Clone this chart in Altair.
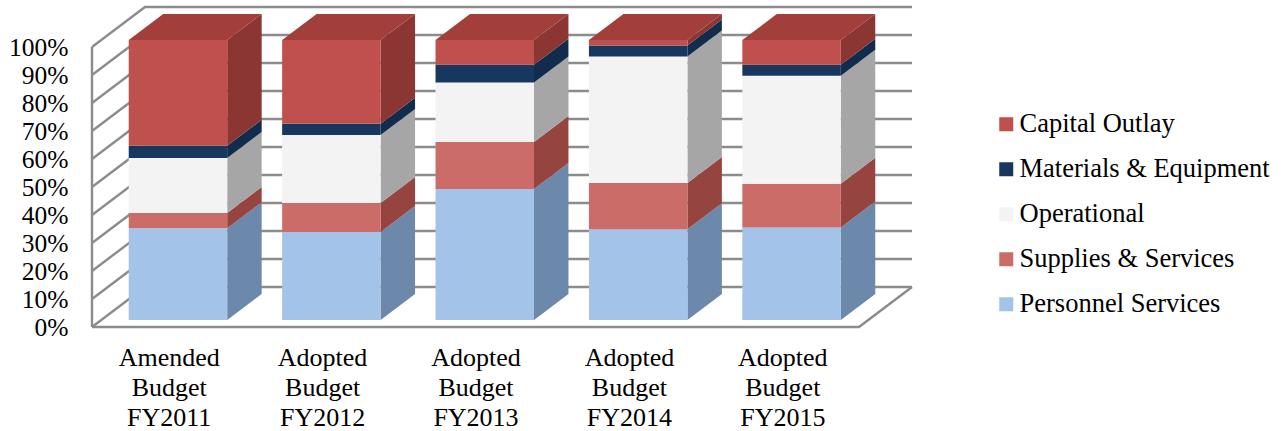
import altair as alt
import pandas as pd

# Budget years and the share of each spending category, in percent
budgets = ["Amended\nBudget\nFY2011", "Adopted\nBudget\nFY2012", "Adopted\nBudget\nFY2013",
           "Adopted\nBudget\nFY2014", "Adopted\nBudget\nFY2015"]
series = ["Personnel Services", "Supplies & Services", "Operational",
          "Materials & Equipment", "Capital Outlay"]
personnel = [32.8, 31.4, 46.8, 32.4, 33.0]
supplies = [5.4, 10.4, 16.8, 16.5, 15.7]
operational = [19.7, 24.3, 21.2, 45.2, 38.5]
materials = [4.3, 4.0, 6.4, 3.9, 4.0]
capital = [37.8, 29.9, 8.8, 2.0, 8.8]
shares = [personnel, supplies, operational, materials, capital]

# Face colours of each series: front, side, top
front_colors = ["#a3c3e8", "#cc6c69", "#f3f3f3", "#17375e", "#c0504d"]
side_colors = ["#6c88ab", "#964440", "#a6a6a6", "#122c4e", "#8b3633"]
top_color = "#a23f3b"
line_color = "#8c8c8c"
FONT = "Liberation Serif"

# Oblique projection: depth 0 is the front plane, depth 1 the back wall
DEPTH_X = 0.3455   # category units
DEPTH_Y = 14.286   # percentage points
BAR_NEAR, BAR_FAR = 0.175, 0.825
BAR_WIDTH = 0.642
X_MAX = 5 + DEPTH_X
Y_MAX = 100 + DEPTH_Y


def project(x, y, depth):
    return x + DEPTH_X * depth, y + DEPTH_Y * depth


# Wall and floor lines
wall_rows = []


def wall_line(key, *points):
    for n, (x, y, depth) in enumerate(points):
        px, py = project(x, y, depth)
        wall_rows.append({"key": key, "n": n, "x": px, "y": py})


for pct in range(0, 101, 10):
    wall_line(f"grid{pct}", (0, pct, 0), (0, pct, 1), (5, pct, 1))
wall_line("left", (0, 0, 0), (0, 100, 0))
wall_line("floor", (0, 0, 0), (5, 0, 0), (5, 0, 1))

front_rows, side_rows, top_rows = [], [], []
for b in range(len(budgets)):
    left = b + 0.5 - BAR_WIDTH / 2
    right = b + 0.5 + BAR_WIDTH / 2
    base = 0.0
    for s, name in enumerate(series):
        head = base + shares[s][b]
        x0, y0 = project(left, base, BAR_NEAR)
        x1, y1 = project(right, head, BAR_NEAR)
        front_rows.append({"series": name, "x": x0, "x2": x1, "y": y0, "y2": y1})
        for depth in (BAR_NEAR, BAR_FAR):
            sx, sy = project(right, base, depth)
            _, sy2 = project(right, head, depth)
            side_rows.append({"key": f"{b}-{s}", "fill": side_colors[s], "x": sx, "y": sy, "y2": sy2})
        base = head
    for depth in (BAR_NEAR, BAR_FAR):
        tx, ty = project(left, base, depth)
        tx2, _ = project(right, base, depth)
        top_rows.append({"key": str(b), "x": tx, "x2": tx2, "y": ty})

x_scale = alt.Scale(domain=[0, X_MAX], nice=False, zero=False)
y_scale = alt.Scale(domain=[0, Y_MAX], nice=False, zero=False)

# Every layer carries the same axis definitions so that they merge cleanly
x_axis = alt.Axis(
    values=[0.5, 1.5, 2.5, 3.5, 4.5],
    domain=False, ticks=False, grid=False,
    labelExpr="split(" + str(budgets).replace("\\n", "|") + "[floor(datum.value)], '|')",
    labelFont=FONT, labelFontSize=26, labelColor="#000000",
    labelLineHeight=30, labelPadding=17, labelBaseline="top",
    labelAngle=0, labelOverlap=False, labelFlush=False, labelBound=False,
)
y_axis = alt.Axis(
    values=list(range(0, 101, 10)),
    domain=False, ticks=False, grid=False,
    labelExpr="datum.value + '%'",
    labelFont=FONT, labelFontSize=25.5, labelColor="#000000",
    labelPadding=24, labelOverlap=False, labelFlush=False, labelBound=False,
)
x_enc = alt.X("x:Q", scale=x_scale, title=None, axis=x_axis)
y_enc = alt.Y("y:Q", scale=y_scale, title=None, axis=y_axis)

walls = alt.Chart(pd.DataFrame(wall_rows)).mark_line(
    color=line_color, strokeWidth=2.4, strokeJoin="miter"
).encode(
    x=x_enc,
    y=y_enc,
    detail="key:N",
    order="n:Q",
)

sides = alt.Chart(pd.DataFrame(side_rows)).mark_area(interpolate="linear").encode(
    x=x_enc,
    y=y_enc,
    y2="y2:Q",
    detail="key:N",
    fill=alt.Fill("fill:N", scale=None),
)

tops = alt.Chart(pd.DataFrame(top_rows)).mark_area(
    orient="horizontal", interpolate="linear", color=top_color
).encode(
    y=y_enc,
    x=x_enc,
    x2="x2:Q",
    detail="key:N",
)

fronts = alt.Chart(pd.DataFrame(front_rows)).mark_rect().encode(
    x=x_enc,
    x2="x2:Q",
    y=y_enc,
    y2="y2:Q",
    color=alt.Color(
        "series:N",
        scale=alt.Scale(domain=series[::-1], range=front_colors[::-1]),
        legend=alt.Legend(
            title=None, orient="none", legendX=899, legendY=104,
            symbolType="square", symbolSize=196, symbolStrokeWidth=0, symbolOffset=2,
            labelFont=FONT, labelFontSize=26.5, labelColor="#000000",
            labelOffset=0, rowPadding=18, labelLimit=320,
        ),
    ),
)

chart = alt.layer(walls, sides, tops, fronts).properties(
    width=820,
    height=320,
    autosize=alt.AutoSizeParams(type="none"),
    padding={"left": 92, "top": 7, "right": 373, "bottom": 104},
).configure_view(stroke=None)

chart.save("out.html", embed_options={"renderer": "svg", "actions": False})
